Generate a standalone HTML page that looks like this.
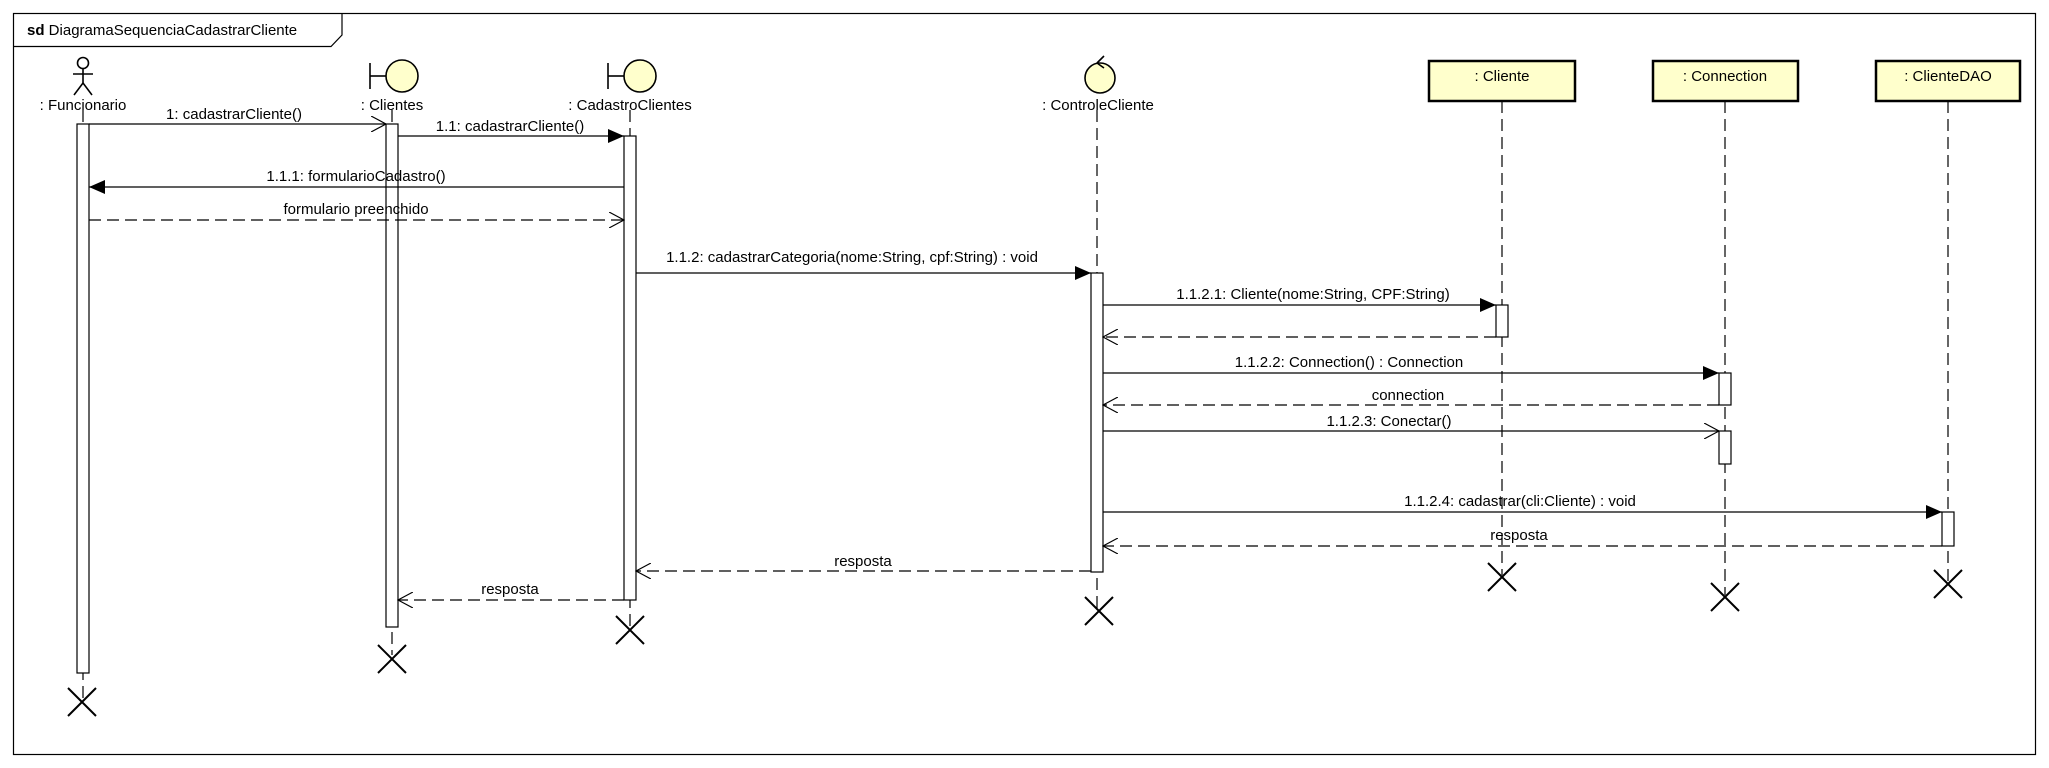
<!DOCTYPE html>
<html><head><meta charset="utf-8"><style>
html,body{margin:0;padding:0;background:#fff;}
svg{display:block;}
text{font-family:"Liberation Sans",Arial,sans-serif;font-size:15px;fill:#000;}
</style></head><body>
<svg width="2049" height="768" viewBox="0 0 2049 768" xmlns="http://www.w3.org/2000/svg">
<defs>
<marker id="fa" markerWidth="16" markerHeight="14" refX="16" refY="7" orient="auto" markerUnits="userSpaceOnUse"><path d="M0,0 L16,7 L0,14 Z" fill="#000"/></marker>
<marker id="oa" markerWidth="16" markerHeight="16" refX="15" refY="8" orient="auto" markerUnits="userSpaceOnUse"><path d="M0,0 L15,8 L0,16" fill="none" stroke="#000" stroke-width="1.2"/></marker>
</defs>
<rect x="13.5" y="13.5" width="2022" height="741" fill="#fff" stroke="#000" stroke-width="1.2"/>
<path d="M13.5,46.5 H331 L342,35 V13.5" fill="none" stroke="#000" stroke-width="1.2"/>
<text x="27" y="35"><tspan font-weight="bold">sd</tspan> DiagramaSequenciaCadastrarCliente</text>

<g stroke="#000" stroke-width="1.2" stroke-dasharray="12,6" fill="none">
<line x1="83" y1="110" x2="83" y2="700"/>
<line x1="392" y1="110" x2="392" y2="655"/>
<line x1="630" y1="110" x2="630" y2="628"/>
<line x1="1097" y1="110" x2="1097" y2="608"/>
<line x1="1502" y1="101" x2="1502" y2="575"/>
<line x1="1725" y1="101" x2="1725" y2="595"/>
<line x1="1948" y1="101" x2="1948" y2="582"/>
</g>

<g stroke="#000" stroke-width="1.6" fill="none">
<circle cx="83" cy="63" r="5.5"/>
<line x1="83" y1="68.5" x2="83" y2="83"/>
<line x1="73" y1="74" x2="93" y2="74"/>
<line x1="83" y1="83" x2="74" y2="95"/>
<line x1="83" y1="83" x2="92" y2="95"/>
</g>
<text x="83" y="110" text-anchor="middle">: Funcionario</text>

<g stroke="#000" stroke-width="1.6" fill="#ffffcc">
<line x1="370" y1="63" x2="370" y2="89"/><line x1="370" y1="76" x2="386" y2="76"/>
<circle cx="402" cy="76" r="16"/>
<line x1="608" y1="63" x2="608" y2="89"/><line x1="608" y1="76" x2="624" y2="76"/>
<circle cx="640" cy="76" r="16"/>
<circle cx="1100" cy="78" r="15"/>
<path d="M1097,63 L1104,56 M1097,63 L1104,68" fill="none"/>
</g>
<text x="392" y="110" text-anchor="middle">: Clientes</text>
<text x="630" y="110" text-anchor="middle">: CadastroClientes</text>
<text x="1098" y="110" text-anchor="middle">: ControleCliente</text>

<g stroke="#000" stroke-width="2.5" fill="#ffffcc">
<rect x="1429" y="61" width="146" height="40"/>
<rect x="1653" y="61" width="145" height="40"/>
<rect x="1876" y="61" width="144" height="40"/>
</g>
<text x="1502" y="81" text-anchor="middle">: Cliente</text>
<text x="1725" y="81" text-anchor="middle">: Connection</text>
<text x="1948" y="81" text-anchor="middle">: ClienteDAO</text>

<g stroke="#000" stroke-width="1.2" fill="#fff">
<rect x="77" y="124" width="12" height="549"/>
<rect x="386" y="124" width="12" height="503"/>
<rect x="624" y="136" width="12" height="464"/>
<rect x="1091" y="273" width="12" height="299"/>
<rect x="1496" y="305" width="12" height="32"/>
<rect x="1719" y="373" width="12" height="32"/>
<rect x="1719" y="431" width="12" height="33"/>
<rect x="1942" y="512" width="12" height="34"/>
</g>

<g stroke="#000" stroke-width="1.2" fill="none">
<line x1="89" y1="124" x2="386" y2="124" marker-end="url(#oa)"/>
<line x1="398" y1="136" x2="624" y2="136" marker-end="url(#fa)"/>
<line x1="624" y1="187" x2="89" y2="187" marker-end="url(#fa)"/>
<line x1="89" y1="220" x2="624" y2="220" stroke-dasharray="12,6" marker-end="url(#oa)"/>
<line x1="636" y1="273" x2="1091" y2="273" marker-end="url(#fa)"/>
<line x1="1103" y1="305" x2="1496" y2="305" marker-end="url(#fa)"/>
<line x1="1496" y1="337" x2="1103" y2="337" stroke-dasharray="12,6" marker-end="url(#oa)"/>
<line x1="1103" y1="373" x2="1719" y2="373" marker-end="url(#fa)"/>
<line x1="1719" y1="405" x2="1103" y2="405" stroke-dasharray="12,6" marker-end="url(#oa)"/>
<line x1="1103" y1="431" x2="1719" y2="431" marker-end="url(#oa)"/>
<line x1="1103" y1="512" x2="1942" y2="512" marker-end="url(#fa)"/>
<line x1="1942" y1="546" x2="1103" y2="546" stroke-dasharray="12,6" marker-end="url(#oa)"/>
<line x1="1091" y1="571" x2="636" y2="571" stroke-dasharray="12,6" marker-end="url(#oa)"/>
<line x1="624" y1="600" x2="398" y2="600" stroke-dasharray="12,6" marker-end="url(#oa)"/>
</g>
<text x="234" y="119" text-anchor="middle">1: cadastrarCliente()</text>
<text x="510" y="131" text-anchor="middle">1.1: cadastrarCliente()</text>
<text x="356" y="181" text-anchor="middle">1.1.1: formularioCadastro()</text>
<text x="356" y="214" text-anchor="middle">formulario preenchido</text>
<text x="852" y="262" text-anchor="middle">1.1.2: cadastrarCategoria(nome:String, cpf:String) : void</text>
<text x="1313" y="299" text-anchor="middle">1.1.2.1: Cliente(nome:String, CPF:String)</text>
<text x="1349" y="367" text-anchor="middle">1.1.2.2: Connection() : Connection</text>
<text x="1408" y="400" text-anchor="middle">connection</text>
<text x="1389" y="426" text-anchor="middle">1.1.2.3: Conectar()</text>
<text x="1520" y="506" text-anchor="middle">1.1.2.4: cadastrar(cli:Cliente) : void</text>
<text x="1519" y="540" text-anchor="middle">resposta</text>
<text x="863" y="566" text-anchor="middle">resposta</text>
<text x="510" y="594" text-anchor="middle">resposta</text>

<g stroke="#000" stroke-width="2" fill="none">
<path d="M68,688 L96,716 M96,688 L68,716"/>
<path d="M378,645 L406,673 M406,645 L378,673"/>
<path d="M616,616 L644,644 M644,616 L616,644"/>
<path d="M1085,597 L1113,625 M1113,597 L1085,625"/>
<path d="M1488,563 L1516,591 M1516,563 L1488,591"/>
<path d="M1711,583 L1739,611 M1739,583 L1711,611"/>
<path d="M1934,570 L1962,598 M1962,570 L1934,598"/>
</g>
</svg>
</body></html>
